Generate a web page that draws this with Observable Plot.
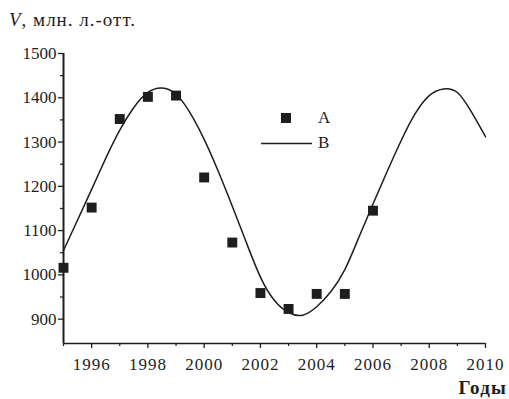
<!DOCTYPE html>
<html>
<head>
<meta charset="utf-8">
<script src="https://cdn.jsdelivr.net/npm/d3@7"></script>
<script src="https://cdn.jsdelivr.net/npm/@observablehq/plot@0.6"></script>
<style>
  html, body { margin: 0; padding: 0; background: #fff; }
  #wrap { position: relative; width: 509px; height: 399px; overflow: hidden; background: #fff; font-family: "Liberation Serif", "DejaVu Serif", serif; color: #1e1e1e; }
  #title { position: absolute; left: 9px; top: 9px; font-size: 19px; letter-spacing: 1px; white-space: nowrap; }
  #title i { font-style: italic; }
  #chart { position: absolute; left: 0; top: 38px; }
  #chart g[aria-label="x-axis tick label"] text { letter-spacing: 1px; }
  #xlabel { position: absolute; right: 2px; top: 378px; font-size: 19px; line-height: 19px; font-weight: bold; letter-spacing: 1.2px; }
  #legend { position: absolute; left: 255px; top: 106px; font-size: 17px; }
  #legend .row { position: relative; height: 25px; }
  #legend svg { position: absolute; left: 0; top: 0; }
  #legend span { position: absolute; left: 63px; top: 2px; }
</style>
</head>
<body>
<div id="wrap">
  <div id="title"><i>V</i>, млн. л.-отт.</div>
  <div id="chart"></div>
  <div id="xlabel">Годы</div>
  <div id="legend">
    <div class="row"><svg width="60" height="25"><rect x="26" y="7" width="10" height="10" fill="#1e1e1e"></rect></svg><span>A</span></div>
    <div class="row"><svg width="60" height="25"><line x1="6" x2="57" y1="12.5" y2="12.5" stroke="#1e1e1e" stroke-width="1.4"></line></svg><span>B</span></div>
  </div>
</div>
<script>
// Series A: observed values (squares)
const yearsA = [1995, 1996, 1997, 1998, 1999, 2000, 2001, 2002, 2003, 2004, 2005, 2006];
const valuesA = [1016, 1152, 1352, 1402, 1405, 1220, 1073, 959, 923, 957, 957, 1145];

// Series B: fitted curve, values every half year
const yearsB = [1995, 1995.5, 1996, 1996.5, 1997, 1997.5, 1998, 1998.5, 1999, 1999.5, 2000, 2000.5, 2001, 2001.5, 2002, 2002.5, 2003, 2003.5, 2004, 2004.5, 2005, 2005.5, 2006, 2006.5, 2007, 2007.5, 2008, 2008.5, 2009, 2009.5, 2010];
const valuesB = [1055, 1124, 1193, 1263, 1327, 1378, 1412, 1422, 1408, 1366, 1306, 1234, 1155, 1073, 995, 942, 915, 909, 928, 962, 1012, 1085, 1160, 1233, 1303, 1364, 1405, 1420, 1412, 1368, 1312];

// Tick labels
const xTicksMajor = [1996, 1998, 2000, 2002, 2004, 2006, 2008, 2010];
const xTicksMinor = [1995, 1997, 1999, 2001, 2003, 2005, 2007, 2009];
const yTicksMajor = [900, 1000, 1100, 1200, 1300, 1400, 1500];
const yTicksMinor = [950, 1050, 1150, 1250, 1350, 1450];
const xDomain = [1995, 2010];
const yDomain = [845, 1500];

const pointsA = yearsA.map((x, i) => ({x, y: valuesA[i]}));
const curveB = yearsB.map((x, i) => ({x, y: valuesB[i]}));

const ink = "#1e1e1e";
const chart = Plot.plot({
  width: 509,
  height: 340,
  marginLeft: 63,
  marginRight: 24,
  marginTop: 15,
  marginBottom: 35,
  x: {domain: xDomain},
  y: {domain: yDomain},
  style: {fontFamily: "Liberation Serif, serif", fontSize: "17px", background: "white", color: ink},
  marks: [
    Plot.axisX({ticks: xTicksMajor, tickFormat: d => String(d), tickSize: 5, tickPadding: 9, label: null, stroke: ink, strokeWidth: 1.3, fontSize: 17}),
    Plot.axisX({ticks: xTicksMinor, tickFormat: () => "", tickSize: 3, label: null, stroke: ink, strokeWidth: 1.2}),
    Plot.axisY({ticks: yTicksMajor, tickFormat: d => String(d), tickSize: 5, tickPadding: 2, label: null, stroke: ink, strokeWidth: 1.3, fontSize: 17}),
    Plot.axisY({ticks: yTicksMinor, tickFormat: () => "", tickSize: 3, label: null, stroke: ink, strokeWidth: 1.2}),
    Plot.ruleY([yDomain[0]], {x1: xDomain[0], x2: xDomain[1], stroke: ink, strokeWidth: 1.5}),
    Plot.ruleX([xDomain[0]], {y1: yDomain[0], y2: yDomain[1], stroke: ink, strokeWidth: 2}),
    Plot.line(curveB, {x: "x", y: "y", curve: "natural", stroke: ink, strokeWidth: 1.5}),
    Plot.dot(pointsA, {x: "x", y: "y", symbol: "square", r: 5.6, fill: ink, stroke: "none"})
  ]
});
document.getElementById("chart").appendChild(chart);
</script>
</body>
</html>
